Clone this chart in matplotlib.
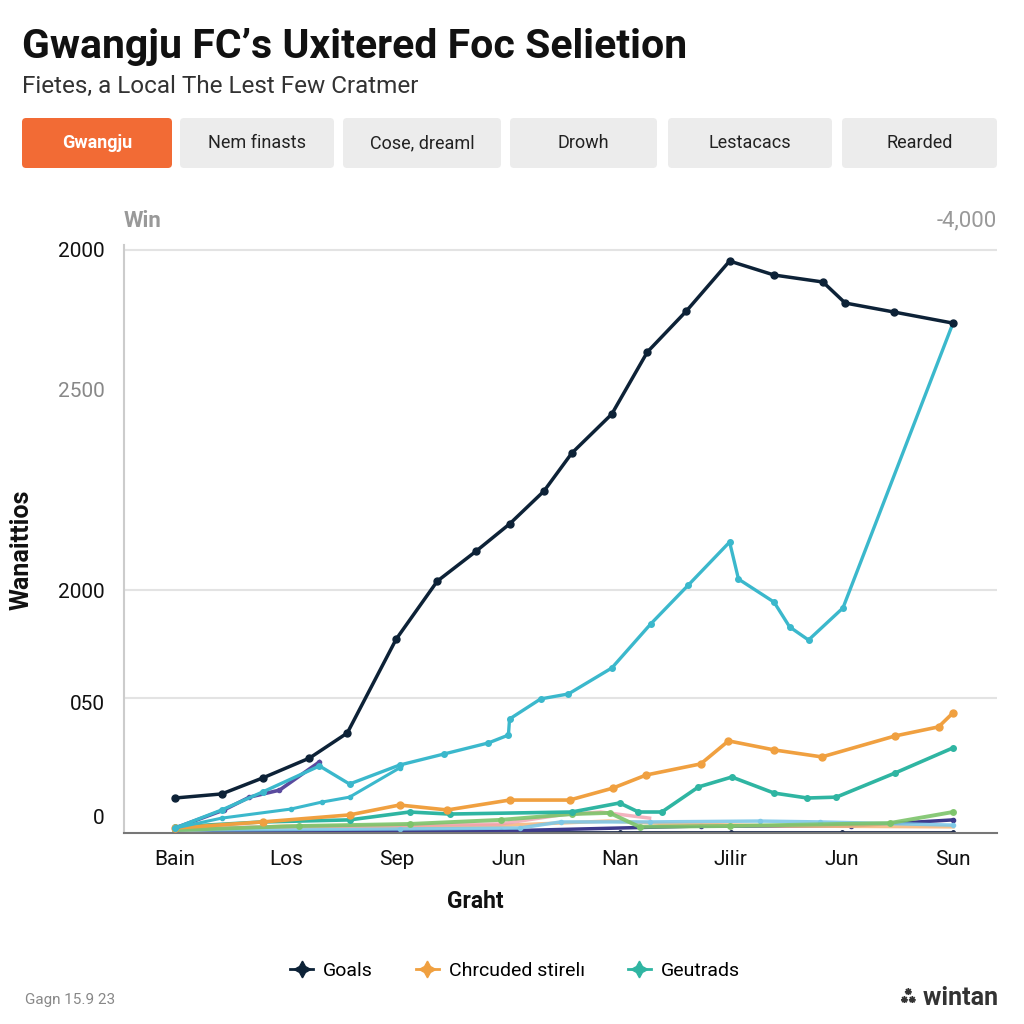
import numpy as np
import matplotlib.pyplot as plt
from matplotlib.patches import FancyBboxPatch
from matplotlib.lines import Line2D

plt.rcParams['font.family'] = ['Roboto', 'DejaVu Sans']

# x 轴类别
months = ["Bain", "Los", "Sep", "Jun", "Nan", "Jilir", "Jun", "Sun"]

# 主线 (Goals)
goals_x = [0, 0.42, 0.79, 1.21, 1.55, 1.99, 2.36, 2.71, 3.01, 3.32, 3.57, 3.93, 4.25, 4.6, 4.99, 5.39, 5.83, 6.03, 6.47, 7.0]
goals_y = [120, 134, 189, 257, 343, 665, 864, 967, 1060, 1173, 1303, 1437, 1650, 1790, 1962, 1914, 1890, 1818, 1787, 1749]

# 青色线
cyan_x = [0, 0.42, 0.79, 1.30, 1.57, 2.02, 2.42, 2.82, 3.0, 3.01, 3.29, 3.54, 3.93, 4.28, 4.62, 4.99, 5.07, 5.39, 5.53, 5.70, 6.01, 7.0]
cyan_y = [17, 79, 141, 230, 168, 233, 271, 309, 336, 391, 460, 477, 566, 717, 851, 998, 871, 792, 707, 662, 772, 1749]

cyan2_x = [0, 0.42, 1.04, 1.32, 1.57, 2.02]
cyan2_y = [17, 51, 82, 106, 123, 223]

purple_x = [0, 0.44, 0.67, 0.94, 1.30]
purple_y = [17, 79, 123, 147, 244]

# Chrcuded stirelı
orange_x = [0, 0.79, 1.57, 2.02, 2.45, 3.01, 3.55, 3.94, 4.24, 4.73, 4.98, 5.39, 5.82, 6.48, 6.87, 7.0]
orange_y = [17, 38, 62, 96, 79, 113, 113, 154, 199, 237, 316, 285, 261, 333, 364, 412]

# Geutrads
teal_x = [0, 0.79, 1.57, 2.11, 2.47, 3.57, 4.0, 4.17, 4.38, 4.71, 5.01, 5.39, 5.69, 5.95, 6.48, 7.0]
teal_y = [21, 38, 45, 72, 65, 72, 103, 72, 72, 158, 192, 137, 120, 123, 206, 292]

# 底部杂线
green_x = [0, 1.12, 2.11, 2.93, 3.57, 3.91, 4.18, 4.99, 6.43, 7.0]
green_y = [10, 24, 31, 45, 65, 69, 21, 24, 34, 72]
pink_x = [0, 1.57, 2.93, 3.47, 3.83, 4.27]
pink_y = [17, 24, 31, 62, 72, 51]
lblue_x = [0, 2.02, 3.1, 3.47, 4.27, 5.26, 5.8, 7.0]
lblue_y = [10, 14, 17, 38, 38, 41, 38, 27]
lorange_x = [0, 1.0, 2.0, 3.0, 3.9, 4.5, 5.5, 7.0]
lorange_y = [7, 24, 20, 27, 41, 31, 24, 21]
dpurple_x = [0, 2.93, 4.73, 6.08, 7.0]
dpurple_y = [3, 7, 24, 24, 45]
navyb_x = [0, 1.0, 2.0, 3.0, 4.0, 5.0, 6.0, 7.0]
navyb_y = [3, 3, 3, 3, 3, 3, 3, 3]

ytick_vals = [2000, 1520, 833, 446, 55]
ytick_text = ["2000", "2500", "2000", "050", "0"]

tabs = ["Gwangju", "Nem finasts", "Cose, dreaml", "Drowh", "Lestacacs", "Rearded"]
tab_x = [22, 180, 343, 510, 668, 842]
tab_w = [150, 154, 158, 147, 164, 155]

fig = plt.figure(figsize=(10.24, 10.24), dpi=100)
fig.patch.set_facecolor("white")

# 标题
fig.text(22 / 1024, 1 - 47 / 1024, "Gwangju FC’s Uxitered Foc Selietion", fontsize=29.5,
         fontweight="bold", color="#111111", va="center", ha="left")
fig.text(22 / 1024, 1 - 86 / 1024, "Fietes, a Local The Lest Few Cratmer", fontsize=17.5,
         color="#333333", va="center", ha="left")

# 标签页
for i, t in enumerate(tabs):
    x0 = tab_x[i] / 1024
    w = tab_w[i] / 1024
    y0 = 1 - 168 / 1024
    h = 50 / 1024
    fc = "#f26b35" if i == 0 else "#ececec"
    box = FancyBboxPatch((x0, y0), w, h, boxstyle="round,pad=0,rounding_size=0.004",
                         transform=fig.transFigure, facecolor=fc, edgecolor="none")
    fig.patches.append(box)
    fig.text(x0 + w / 2, y0 + h / 2, t, fontsize=13, ha="center", va="center",
             color="white" if i == 0 else "#222222",
             fontweight="bold" if i == 0 else "normal")

ax = fig.add_axes([124 / 1024, 1 - 833 / 1024, 873 / 1024, (833 - 245) / 1024])

def draw(x, y, c, lw=2.4, ms=4, alpha=1.0, z=2):
    ax.plot(x, y, color=c, lw=lw, marker="o", ms=ms, alpha=alpha, zorder=z)

draw(navyb_x, navyb_y, "#1d2b4f", lw=2.0, ms=2.5, z=2)
draw(dpurple_x, dpurple_y, "#3d3a8c", lw=2.5, ms=3, z=2)
draw(lorange_x, lorange_y, "#f5b880", lw=2.5, ms=0, alpha=0.9)
draw(lblue_x, lblue_y, "#7ec8e8", lw=2.5, ms=3, alpha=0.9)
draw(pink_x, pink_y, "#f0a0b0", lw=2.5, ms=0, alpha=0.8)
draw(green_x, green_y, "#7cc46a", lw=2.8, ms=4, alpha=0.9)
draw(teal_x, teal_y, "#2fb5a2", lw=2.6, ms=4, z=3)
draw(orange_x, orange_y, "#f0a040", lw=2.6, ms=5, z=3)
draw(purple_x, purple_y, "#5a4a9e", lw=2.6, ms=3, z=3)
draw(cyan2_x, cyan2_y, "#3bb8cc", lw=2.2, ms=3, z=3)
draw(cyan_x, cyan_y, "#3bb8cc", lw=2.4, ms=4, z=4)
draw(goals_x, goals_y, "#0d2237", lw=2.5, ms=5, z=5)

for g in [2000, 833, 463]:
    ax.axhline(g, color="#e3e3e3", lw=1.5, zorder=0)

ax.set_xlim(-0.459, 7.396)
ax.set_ylim(0, 2017)
ax.set_xticks(range(len(months)))
ax.set_xticklabels(months, fontsize=15, color="#111111")
ax.set_yticks(ytick_vals)
ax.set_yticklabels(ytick_text, fontsize=15)
for i, lab in enumerate(ax.get_yticklabels()):
    lab.set_color("#888888" if i == 1 else "#111111")
ax.tick_params(length=0, pad=14)
ax.tick_params(axis="x", pad=12)
for s in ["top", "right"]:
    ax.spines[s].set_visible(False)
ax.spines["left"].set_color("#cccccc")
ax.spines["left"].set_linewidth(1.5)
ax.spines["bottom"].set_color("#777777")
ax.spines["bottom"].set_linewidth(1.5)

fig.text(124 / 1024, 1 - 221 / 1024, "Win", fontsize=16, color="#999999",
         fontweight="bold", va="center", ha="left")
fig.text(997 / 1024, 1 - 221 / 1024, "-4,000", fontsize=16, color="#999999",
         va="center", ha="right")
fig.text(22 / 1024, 1 - 550 / 1024, "Wanaittios", fontsize=18, fontweight="bold",
         rotation=90, va="center", ha="center", color="#111111")
fig.text(475 / 1024, 1 - 902 / 1024, "Graht", fontsize=16.5, fontweight="bold",
         va="center", ha="center", color="#111111")

# 图例
handles = [Line2D([], [], color=c, lw=2, marker=(4, 1, 0), ms=12)
           for c in ["#0d2237", "#f0a040", "#2fb5a2"]]
fig.legend(handles, ["Goals", "Chrcuded stirelı", "Geutrads"], loc="center",
           bbox_to_anchor=(515 / 1024, 1 - 971 / 1024), ncol=3, frameon=False,
           fontsize=14, handlelength=1.2, columnspacing=2.2, handletextpad=0.5)

fig.text(25 / 1024, 1 - 1000 / 1024, "Gagn 15.9 23", fontsize=11, color="#888888",
         va="center", ha="left")
fig.text(998 / 1024, 1 - 998 / 1024, "⁂ wintan", fontsize=18, fontweight="bold",
         color="#333333", va="center", ha="right", family=["Roboto", "DejaVu Sans"])

fig.savefig("out.png", dpi=100, facecolor="white")
